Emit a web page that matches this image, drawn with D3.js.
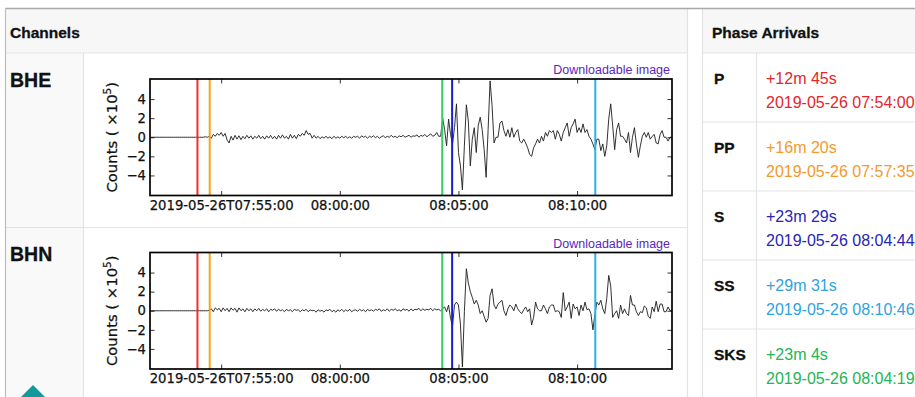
<!DOCTYPE html>
<html>
<head>
<meta charset="utf-8">
<script src="https://cdn.jsdelivr.net/npm/d3@7/dist/d3.min.js"></script>
<style>
  body { margin: 0; background: #fff; }
  svg text { font-family: "Liberation Sans", Arial, Helvetica, sans-serif; }
  .mpl text { font-family: "DejaVu Sans", sans-serif; }
</style>
</head>
<body>
<svg id="page" width="915" height="397"></svg>
<script>
// trace header (like a miniseed record): start time, sample spacing in seconds
const traceStart = '2019-05-26T07:52:00Z';
const traceDelta = 5;
const plotWindow = ['2019-05-26T07:52:00Z', '2019-05-26T08:14:00Z'];

const channelNames = ['BHE', 'BHN'];

// counts x 1e5, one value every traceDelta seconds
const bheCounts = [
  0,0,0,0,0,0,0,0,0,0, 0,0,0,0,0,0,0,0,0,0, 0,0,0,0,
  0,0,0,0,0.05,0,
  0.1,-0.1,0.3,0.1,0.4,0.2,0.5,0.1,0.4,-0.3,
  -0.6,0.1,-0.3,0.2,-0.2,0.15,-0.25,0.1,-0.15,0.2,
  -0.1,0.15,-0.2,0.1,-0.1,0.2,-0.15,0.1,-0.2,0.15,
  -0.1,0.2,-0.15,0.1,-0.2,0.2,-0.1,0.25,-0.1,0.1,
  -0.2,0.3,-0.1,0.2,-0.15,0.3,0.1,0.4,0.2,0.7,
  0.3,0.4,-0.1,0.2,-0.1,0.1,-0.15,0.05,-0.1,0.1,
  -0.1,0.05,-0.15,0.1,-0.1,0.05,-0.1,0.1,-0.05,0.1,
  -0.1,0.05,-0.1,0.1,0,0.1,-0.1,0.15,0,0.1,
  -0.1,0.1,0,0.15,-0.05,0.1,-0.1,0.05,0.15,-0.05,
  0.1,0,0.2,0,0.1,-0.05,0.15,0.05,0.2,0,
  0.1,0.2,0,0.15,0.1,0.25,0,0.2,0.1,0.3,
  0.05,0.2,0.35,0.1,0.2,0.5,0.1,
  0.1,2.0,0.8,-0.9,1.9,0.3,-0.7,1.0,3.5,-1.6,
  -3.0,-5.5,-0.9,3.4,1.7,-3.0,-0.2,1.0,-1.6,1.2,
  2.1,0.8,-1.3,-4.2,0.8,5.9,3.3,-0.6,0.0,0.0,
  1.5,1.7,0.7,0.1,0.8,0.0,1.0,0.0,0.5,0.8,
  -0.4,-0.6,-0.2,-0.6,-1.1,-1.8,-2.0,-1.1,-0.7,-0.2,
  -0.6,0.1,-0.4,0.5,0.1,0.7,0.5,0.7,-0.2,0.7,
  0.3,-0.4,0.5,1.0,1.5,0.1,1.0,1.4,1.9,0.5,
  1.0,0.5,1.4,0.5,0.8,0.1,-0.2,-0.7,-1.3,-0.2,
  -0.2,-1.4,-0.7,-2.0,-0.9,1.9,3.5,1.2,-1.3,0.8,
  1.5,0.1,0.1,-0.2,-0.6,0.5,-1.6,0.0,1.0,-0.7,
  -2.1,-0.9,0.1,0.5,0.0,0.5,-0.2,0.1,0.3,-0.6,
  -0.7,0.3,0.7,0.0,0.0,-0.4,0.0,0.0
];

const bhnCounts = [
  0,0,0,0,0,0,0,0,0,0, 0,0,0,0,0,0,0,0,0,0, 0,0,0,0,
  0,0,0,0,0,0,
  0.05,0.2,-0.1,0.3,0.1,0.25,-0.1,0.3,0,0.25,
  -0.1,0.3,0.05,0.25,-0.15,0.3,0,0.2,-0.1,0.25,
  0,0.2,-0.1,0.2,0,0.25,-0.05,0.15,0,0.2,
  -0.1,0.15,0.05,0.2,-0.05,0.15,0,0.1,-0.1,0.15,
  0,0.1,-0.1,0.15,0.05,0.1,-0.1,0.1,0,0.15,
  -0.1,0.1,0,0.05,-0.15,0.1,-0.05,0.05,-0.15,0.1,
  0,0.15,-0.1,0.05,-0.15,0.1,-0.05,0.15,-0.1,0.1,
  -0.05,0.15,-0.1,0.05,0.1,-0.05,0.15,0,0.1,-0.1,
  0.15,0,0.1,-0.05,0.15,0.05,0.2,-0.05,0.1,0,
  0.2,-0.05,0.15,0.05,0.2,0,0.1,-0.05,0.2,0.05,
  0.15,-0.05,0.2,0,0.15,0.1,0.25,0,0.2,0.05,
  0.15,0.1,0.25,0,0.2,0.1,0.15,
  0.0,0.2,0.4,-0.1,0.6,-0.8,-1.6,0.6,0.9,0.6,
  -1.4,-5.9,-0.1,4.4,2.9,2.0,1.4,0.7,1.1,0.6,
  -0.3,0.0,-0.6,-1.2,-0.8,1.6,2.3,0.6,0.2,0.7,
  0.9,1.1,0.0,-0.5,0.2,0.6,0.4,0.0,0.7,0.2,
  -0.1,-0.3,0.1,0.4,-0.1,0.2,-1.5,-0.7,0.9,0.2,
  0.0,0.0,0.6,0.2,-0.3,0.4,0.6,0.6,-0.1,0.0,
  -0.1,-0.7,1.9,0.0,0.4,0.9,-0.8,0.7,0.2,0.4,
  -0.5,0.6,0.0,0.9,0.1,0.2,-0.3,-2.0,-0.4,0.9,
  0.6,1.1,0.2,-0.3,1.3,3.7,2.6,-0.7,-0.3,0.0,
  -0.8,0.6,-0.3,0.2,-0.3,-0.5,1.6,0.6,0.6,-0.1,
  -0.5,-0.1,-0.2,0.5,0.3,-0.6,-0.8,0.4,-0.1,1.0,
  -0.1,0.7,0.7,-0.1,-0.1,0.4,0.0,0.0
];

// vertical marker lines as drawn on the seismograms
const markerTimes = ['2019-05-26T07:54:00Z', '2019-05-26T07:54:31Z', '2019-05-26T08:04:19Z', '2019-05-26T08:04:44Z', '2019-05-26T08:10:46Z'];

const xTickTimes = ['2019-05-26T07:55:00Z', '2019-05-26T08:00:00Z', '2019-05-26T08:05:00Z', '2019-05-26T08:10:00Z'];
const xTickLabels = ['2019-05-26T07:55:00', '08:00:00', '08:05:00', '08:10:00'];
const yTickValues = [-4, -2, 0, 2, 4];
const yDomain = [-6.1, 6.1];

// phase arrivals table
const arrivalPhases = ['P', 'PP', 'S', 'SS', 'SKS'];
const arrivalOffsets = ['+12m 45s', '+16m 20s', '+23m 29s', '+29m 31s', '+23m 4s'];
const arrivalTimes = ['2019-05-26 07:54:00', '2019-05-26 07:57:35', '2019-05-26 08:04:44', '2019-05-26 08:10:46', '2019-05-26 08:04:19'];

// ---- styles ----
const markerColors = ['#f42b2b', '#f7a21b', '#2fcc6a', '#1a1ad6', '#2ab4e4'];
const arrivalColors = ['#e3262b', '#f39a2c', '#2626b4', '#2ea3df', '#22b655'];
const borderCol = '#e3e3e3';
const headFill = '#f7f7f7';

const svg = d3.select('#page');

// ---- page frame (left "Channels" panel and right "Phase Arrivals" panel) ----
const frame = { top: 8.5, left: 5.5, headH: 44.5, labelW: 78, leftRight: 687.5, rightLeft: 702.5, rightLabelW: 54, rowH: 69 };
const chanRows = [53, 227];

svg.append('rect').attr('x', frame.left).attr('y', frame.top).attr('width', frame.leftRight - frame.left).attr('height', frame.headH)
  .attr('fill', headFill);
svg.append('rect').attr('x', frame.left).attr('y', frame.top + frame.headH).attr('width', frame.labelW).attr('height', 397)
  .attr('fill', '#f9f9f9');
svg.append('rect').attr('x', frame.rightLeft).attr('y', frame.top).attr('width', 915 - frame.rightLeft).attr('height', frame.headH)
  .attr('fill', headFill);

const lines = [
  [frame.left, frame.top + frame.headH, frame.leftRight, frame.top + frame.headH],
  [frame.left, 227.5, frame.leftRight, 227.5],
  [frame.left + frame.labelW, frame.top + frame.headH, frame.left + frame.labelW, 397],
  [frame.leftRight, frame.top, frame.leftRight, 397],
  [frame.rightLeft, frame.top, frame.rightLeft, 397],
  [frame.rightLeft + frame.rightLabelW, frame.top + frame.headH, frame.rightLeft + frame.rightLabelW, 397]
];
arrivalPhases.forEach((p, i) => {
  const yy = frame.top + frame.headH + i * frame.rowH;
  lines.push([frame.rightLeft, yy, 915, yy]);
});
svg.selectAll('line.grid').data(lines).enter().append('line').attr('class', 'grid')
  .attr('x1', d => d[0]).attr('y1', d => d[1]).attr('x2', d => d[2]).attr('y2', d => d[3])
  .attr('stroke', borderCol).attr('stroke-width', 1.2);

svg.append('line').attr('x1', frame.left).attr('y1', frame.top).attr('x2', 915).attr('y2', frame.top)
  .attr('stroke', '#a9a9a9').attr('stroke-width', 1.3);
svg.append('line').attr('x1', frame.left).attr('y1', frame.top).attr('x2', frame.left).attr('y2', 397)
  .attr('stroke', '#bdbdbd').attr('stroke-width', 1.2);

// headings look heavy in the screenshot, so a hairline stroke thickens them a bit
svg.append('text').attr('x', 10).attr('y', 37.5).attr('font-size', 15.5).attr('font-weight', 'bold').attr('fill', '#111')
  .attr('stroke', '#111').attr('stroke-width', 0.3).text('Channels');
svg.append('text').attr('x', 712).attr('y', 37.5).attr('font-size', 15.5).attr('font-weight', 'bold').attr('fill', '#111')
  .attr('stroke', '#111').attr('stroke-width', 0.3).text('Phase Arrivals');

// phase table
const rowG = svg.selectAll('g.arr').data(arrivalPhases).enter().append('g')
  .attr('transform', (d, i) => `translate(0,${frame.top + frame.headH + i * frame.rowH})`);
rowG.append('text').attr('x', 714).attr('y', 30.5).attr('font-size', 15.5).attr('font-weight', 'bold').attr('fill', '#111')
  .attr('stroke', '#111').attr('stroke-width', 0.3).text(d => d);
rowG.append('text').attr('x', 766).attr('y', 31).attr('font-size', 16).attr('fill', (d, i) => arrivalColors[i])
  .text((d, i) => arrivalOffsets[i]);
rowG.append('text').attr('x', 766).attr('y', 54.5).attr('font-size', 16).attr('fill', (d, i) => arrivalColors[i])
  .text((d, i) => arrivalTimes[i]);

// back-to-top badge
svg.append('path').attr('d', 'M33,385 L46,398 L20,398 Z').attr('fill', '#14999b');

// ---- seismograms ----
const plot = { left: 150, width: 522, height: 116.5 };
const plotTops = [79, 252.5];
const parseT = d3.utcParse('%Y-%m-%dT%H:%M:%SZ');
const t0 = parseT(traceStart);

const x = d3.scaleUtc().domain(plotWindow.map(parseT)).range([0, plot.width]);
const y = d3.scaleLinear().domain(yDomain).range([plot.height, 0]);

const traces = [bheCounts, bhnCounts];

channelNames.forEach((name, ci) => {
  svg.append('text').attr('x', 10).attr('y', chanRows[ci] + 34).attr('font-size', 19.5).attr('font-weight', 'bold')
    .attr('fill', '#111').attr('stroke', '#111').attr('stroke-width', 0.3).text(name);

  svg.append('text').attr('x', 670).attr('y', plotTops[ci] - 5).attr('text-anchor', 'end')
    .attr('font-size', 12.5).attr('fill', '#5a26b8').text('Downloadable image');

  const g = svg.append('g').attr('class', 'mpl')
    .attr('transform', `translate(${plot.left},${plotTops[ci]})`);

  const pts = traces[ci].map((v, i) => ({ t: new Date(t0.getTime() + i * traceDelta * 1000), v }));
  g.append('path').datum(pts)
    .attr('fill', 'none').attr('stroke', '#1c1c1c').attr('stroke-width', 1).attr('stroke-opacity', 0.9)
    .attr('d', d3.line().x(d => x(d.t)).y(d => y(d.v)));

  g.selectAll('line.marker').data(markerTimes).enter().append('line')
    .attr('x1', d => x(parseT(d))).attr('x2', d => x(parseT(d)))
    .attr('y1', 0).attr('y2', plot.height)
    .attr('stroke', (d, i) => markerColors[i]).attr('stroke-width', 2);

  const xt = xTickTimes.map(parseT);
  g.append('g').attr('transform', `translate(0,${plot.height})`)
    .call(d3.axisBottom(x).tickValues(xt).tickFormat((d, i) => xTickLabels[i])
      .tickSizeInner(-4.5).tickSizeOuter(0).tickPadding(5));
  g.append('g').call(d3.axisTop(x).tickValues(xt).tickFormat('').tickSizeInner(-4.5).tickSizeOuter(0));
  g.append('g').call(d3.axisLeft(y).tickValues(yTickValues).tickSizeInner(-4.5).tickSizeOuter(0).tickPadding(4));
  g.append('g').attr('transform', `translate(${plot.width},0)`)
    .call(d3.axisRight(y).tickValues(yTickValues).tickFormat('').tickSizeInner(-4.5).tickSizeOuter(0));
  g.selectAll('.domain').remove();
  g.selectAll('.tick line').attr('stroke', '#000').attr('stroke-width', 0.8);
  g.selectAll('.tick text').attr('font-size', 13.2).attr('fill', '#111').attr('font-family', 'DejaVu Sans')
    .attr('stroke', '#111').attr('stroke-width', 0.25);

  g.append('rect').attr('width', plot.width).attr('height', plot.height)
    .attr('fill', 'none').attr('stroke', '#000').attr('stroke-width', 1.7);

  const yl = g.append('text').attr('transform', `translate(-33,${plot.height / 2}) rotate(-90)`)
    .attr('text-anchor', 'middle').attr('font-size', 14.8).attr('fill', '#111')
    .attr('stroke', '#111').attr('stroke-width', 0.25);
  yl.append('tspan').text('Counts ( \u00d710');
  yl.append('tspan').attr('dy', -6).attr('font-size', 10.5).text('5');
  yl.append('tspan').attr('dy', 6).text(')');
});
</script>
</body>
</html>
